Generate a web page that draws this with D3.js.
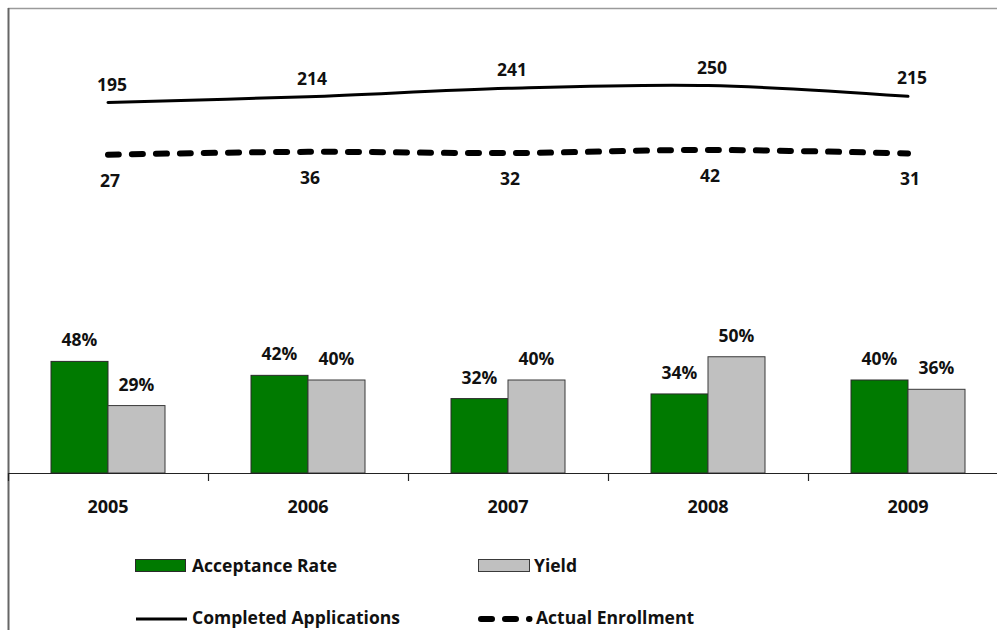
<!DOCTYPE html>
<html>
<head>
<meta charset="utf-8">
<script src="https://cdn.jsdelivr.net/npm/d3@7/dist/d3.min.js"></script>
<style>
  html, body { margin: 0; padding: 0; background: #fff; }
  svg { display: block; }
  text { font-family: "Open Sans", "Noto Sans", sans-serif; font-weight: bold; fill: #111; }
</style>
</head>
<body>
<svg id="chart" width="997" height="630"></svg>
<script>
// ---- data ----
const years = ["2005", "2006", "2007", "2008", "2009"];
const acceptanceRate = [0.48, 0.42, 0.32, 0.34, 0.40];
const yieldRate = [0.29, 0.40, 0.40, 0.50, 0.36];
const completedApplications = [195, 214, 241, 250, 215];
const actualEnrollment = [27, 36, 32, 42, 31];
const seriesNames = ["Acceptance Rate", "Yield", "Completed Applications", "Actual Enrollment"];

// ---- layout ----
const svg = d3.select("#chart");
const W = 997, H = 630;
const plotLeft = 8, plotRight = 1008, plotTop = 8, plotBottom = 473;

// border
svg.append("line").attr("x1", 8).attr("x2", W).attr("y1", 8.5).attr("y2", 8.5)
  .attr("stroke", "#9a9a9a").attr("stroke-width", 1.5);
svg.append("line").attr("x1", 8.5).attr("x2", 8.5).attr("y1", 8).attr("y2", H)
  .attr("stroke", "#666").attr("stroke-width", 2);

const x = d3.scaleBand().domain(years).range([plotLeft, plotRight]).paddingInner(0).paddingOuter(0);
const xInner = d3.scaleBand().domain(["acc", "yield"]).range([43, 157]);
const yPct = d3.scaleLinear().domain([0, 2]).range([plotBottom, plotTop]);
const yCount = d3.scaleLinear().domain([-1000, 500]).range([plotBottom, plotTop]);

const fmtPct = d3.format(".0%");

// bars
const barData = years.map((yr, i) => ({ yr, acc: acceptanceRate[i], yld: yieldRate[i] }));
const g = svg.append("g");

g.selectAll("rect.acc").data(barData).join("rect")
  .attr("class", "acc")
  .attr("x", d => x(d.yr) + xInner("acc"))
  .attr("width", xInner.bandwidth())
  .attr("y", d => yPct(d.acc))
  .attr("height", d => yPct(0) - yPct(d.acc))
  .attr("fill", "#007a00").attr("stroke", "#2a2a2a").attr("stroke-width", 1);

g.selectAll("rect.yld").data(barData).join("rect")
  .attr("class", "yld")
  .attr("x", d => x(d.yr) + xInner("yield"))
  .attr("width", xInner.bandwidth())
  .attr("y", d => yPct(d.yld))
  .attr("height", d => yPct(0) - yPct(d.yld))
  .attr("fill", "#c0c0c0").attr("stroke", "#3a3a3a").attr("stroke-width", 1);

// bar labels
g.selectAll("text.accl").data(barData).join("text")
  .attr("x", d => x(d.yr) + xInner("acc") + xInner.bandwidth() / 2)
  .attr("y", d => yPct(d.acc) - 15)
  .attr("text-anchor", "middle").attr("font-size", 17.5)
  .text(d => fmtPct(d.acc));
g.selectAll("text.yldl").data(barData).join("text")
  .attr("x", d => x(d.yr) + xInner("yield") + xInner.bandwidth() / 2)
  .attr("y", d => yPct(d.yld) - 15)
  .attr("text-anchor", "middle").attr("font-size", 17.5)
  .text(d => fmtPct(d.yld));

// x axis
const xAxis = d3.axisBottom(x).tickSize(0).tickPadding(0);
const axG = svg.append("g").attr("transform", `translate(0,${plotBottom})`);
axG.append("line").attr("x1", plotLeft).attr("x2", W).attr("y1", 0.5).attr("y2", 0.5)
  .attr("stroke", "#222").attr("stroke-width", 1.2);
axG.selectAll("line.tick").data(years).join("line")
  .attr("x1", d => x(d) + 0.5).attr("x2", d => x(d) + 0.5)
  .attr("y1", 0).attr("y2", 8).attr("stroke", "#222").attr("stroke-width", 1.2);
const axisLabels = svg.append("g").attr("transform", `translate(0,${plotBottom})`).call(xAxis);
axisLabels.select(".domain").remove();
axisLabels.selectAll("text")
  .attr("y", 40).attr("dy", 0)
  .attr("font-size", 18)
  .style("font-family", '"Open Sans", "Noto Sans", sans-serif')
  .style("font-weight", "bold").attr("fill", "#111");

// lines
const cx = yr => x(yr) + x.bandwidth() / 2;
const lineGen = d3.line().x(d => cx(d.yr)).y(d => yCount(d.v)).curve(d3.curveCatmullRom.alpha(0.5));
const appData = years.map((yr, i) => ({ yr, v: completedApplications[i] }));
const enrData = years.map((yr, i) => ({ yr, v: actualEnrollment[i] }));

svg.append("path").datum(appData).attr("d", lineGen)
  .attr("fill", "none").attr("stroke", "#000").attr("stroke-width", 3).attr("stroke-linecap", "round");
svg.append("path").datum(enrData).attr("d", lineGen)
  .attr("fill", "none").attr("stroke", "#000").attr("stroke-width", 6)
  .attr("stroke-dasharray", "11,13").attr("stroke-linecap", "round");

svg.selectAll("text.appl").data(appData).join("text")
  .attr("x", d => cx(d.yr) + 4).attr("y", d => yCount(d.v) - 12)
  .attr("text-anchor", "middle").attr("font-size", 17.5).text(d => d.v);
svg.selectAll("text.enrl").data(enrData).join("text")
  .attr("x", d => cx(d.yr) + 2).attr("y", d => yCount(d.v) + 32)
  .attr("text-anchor", "middle").attr("font-size", 17.5).text(d => d.v);

// legend
const lg = svg.append("g");
lg.append("rect").attr("x", 135.5).attr("y", 559.5).attr("width", 50).attr("height", 12)
  .attr("fill", "#007a00").attr("stroke", "#2a2a2a").attr("stroke-width", 1);
lg.append("text").attr("x", 192).attr("y", 572).attr("font-size", 17.5).text(seriesNames[0]);
lg.append("rect").attr("x", 478.5).attr("y", 559.5).attr("width", 51).attr("height", 12)
  .attr("fill", "#c0c0c0").attr("stroke", "#3a3a3a").attr("stroke-width", 1);
lg.append("text").attr("x", 534).attr("y", 572).attr("font-size", 17.5).text(seriesNames[1]);
lg.append("line").attr("x1", 136).attr("x2", 187).attr("y1", 619).attr("y2", 619)
  .attr("stroke", "#000").attr("stroke-width", 3);
lg.append("text").attr("x", 192).attr("y", 624).attr("font-size", 17.5).text(seriesNames[2]);
lg.append("line").attr("x1", 481).attr("x2", 529.5).attr("y1", 619).attr("y2", 619)
  .attr("stroke", "#000").attr("stroke-width", 6)
  .attr("stroke-dasharray", "11,13").attr("stroke-linecap", "round");
lg.append("text").attr("x", 536).attr("y", 624).attr("font-size", 17.5).text(seriesNames[3]);
</script>
</body>
</html>
